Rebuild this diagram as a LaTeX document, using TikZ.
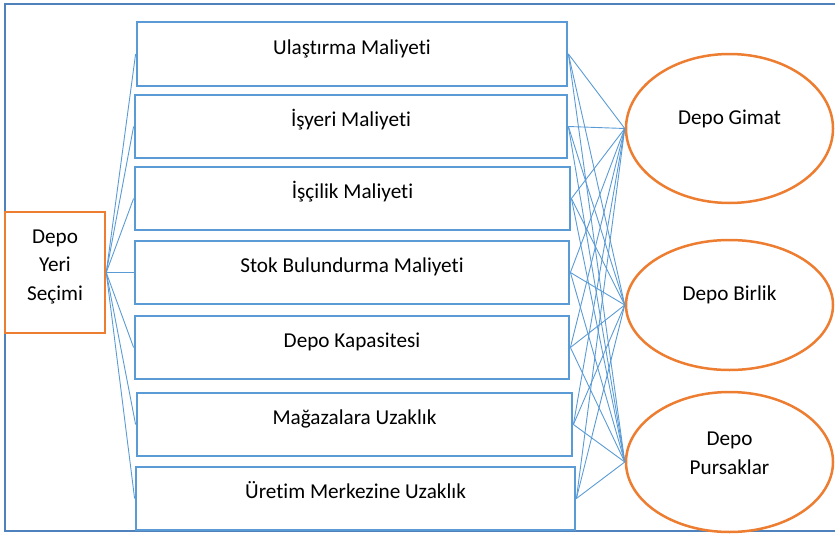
\documentclass[tikz,border=0pt]{standalone}
\usepackage{fontspec}
\setmainfont{Carlito}[RawFeature={-liga;-dlig;-clig}]
\usetikzlibrary{shapes.geometric}
\definecolor{boxblue}{HTML}{5B9BD5}
\definecolor{frameblue}{HTML}{4F81BD}
\definecolor{orng}{HTML}{ED7D31}
\begin{document}
\begin{tikzpicture}[x=1pt,y=-1pt,
  font=\fontsize{21.2}{28.5}\selectfont,
  frameline/.style={draw=frameblue,line width=2pt},
  critbox/.style={draw=boxblue,line width=2.8pt,fill=white,inner sep=0pt,
    minimum height=63pt,text height=12pt,text depth=12pt},
  goalbox/.style={draw=orng,line width=2.5pt,fill=white,inner sep=0pt},
  altell/.style={ellipse,draw=orng,line width=2.5pt,fill=white,inner sep=0pt,minimum width=207pt},
  lbl/.style={inner sep=0pt,align=center},
  link/.style={draw=boxblue,line width=0.9pt}]
\useasboundingbox (0,0) rectangle (835,533);
\draw[frameline] (836,4) -- (5,4) -- (5,531) -- (836,531);

\node[goalbox,minimum width=100pt,minimum height=121pt] (goal) at (55,272.5) {};
\node[lbl] (goaltxt) at (55,266.7) {Depo\\Yeri\\Seçimi};

\node[critbox,minimum width=430pt,minimum height=64pt] (b1) at (352,54) {Ulaştırma Maliyeti};
\node[critbox,minimum width=432pt] (b2) at (351,126.5) {İşyeri Maliyeti};
\node[critbox,minimum width=435pt] (b3) at (352.5,198.5) {İşçilik Maliyeti};
\node[critbox,minimum width=434pt] (b4) at (352,272.5) {Stok Bulundurma Maliyeti};
\node[critbox,minimum width=434pt] (b5) at (352,347.5) {Depo Kapasitesi};
\node[critbox,minimum width=435pt] (b6) at (354.5,424.5) {Mağazalara Uzaklık};
\node[critbox,minimum width=439pt] (b7) at (355.5,498.5) {Üretim Merkezine Uzaklık};

\node[altell,minimum height=149pt] (e1) at (729.5,128.5) {};
\node[altell,minimum height=130pt] (e2) at (729.5,305) {};
\node[altell,minimum height=140pt] (e3) at (729.5,462) {};
\node[lbl,anchor=base] (e1txt) at (729.5,124) {Depo Gimat};
\node[lbl,anchor=base] (e2txt) at (729.5,300) {Depo Birlik};
\node[lbl] (e3txt) at (729.5,452.8) {Depo\\[0.5pt]Pursaklar};

\foreach \b in {b1,b2,b3,b4,b5,b6,b7}{
  \draw[link] (goal.east) -- (\b.west);
  \foreach \e in {e1,e2,e3}{
    \draw[link] (\b.east) -- (\e.west);
  }
}
\end{tikzpicture}
\end{document}
